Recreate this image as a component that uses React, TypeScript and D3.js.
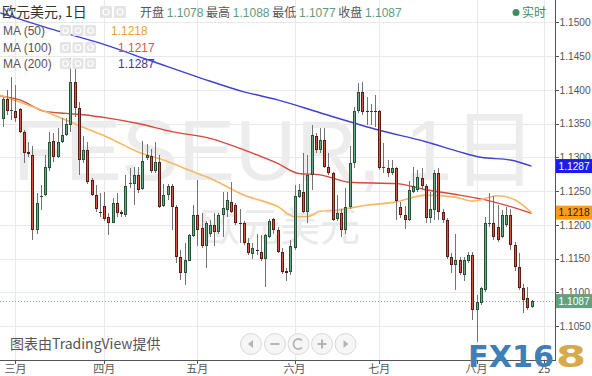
import React from "react";
import * as d3 from "d3";

// ---- Daily OHLC (EUR/USD) ----
const opens = [
  1.1356, 1.1387, 1.1368, 1.1368, 1.1371, 1.1338, 1.1308, 1.1303, 1.1192, 1.1241,
  1.1244, 1.1284, 1.1324, 1.1301, 1.1323, 1.1333, 1.1348, 1.1412, 1.1373, 1.1296,
  1.1311, 1.1266, 1.1244, 1.1219, 1.1228, 1.1212, 1.1203, 1.1233, 1.1219, 1.1215,
  1.1260, 1.1261, 1.1274, 1.1253, 1.1299, 1.1302, 1.1280, 1.1293, 1.1228, 1.1244,
  1.1257, 1.1227, 1.1153, 1.1128, 1.1147, 1.1184, 1.1215, 1.1195, 1.1168, 1.1186,
  1.1200, 1.1190, 1.1215, 1.1222, 1.1234, 1.1229, 1.1203, 1.1202, 1.1173, 1.1157,
  1.1163, 1.1160, 1.1150, 1.1182, 1.1208, 1.1192, 1.1160, 1.1132, 1.1130, 1.1165,
  1.1241, 1.1249, 1.1219, 1.1274, 1.1331, 1.1311, 1.1326, 1.1286, 1.1276, 1.1208,
  1.1218, 1.1192, 1.1227, 1.1291, 1.1368, 1.1397, 1.1368, 1.1367, 1.1368, 1.1368,
  1.1284, 1.1284, 1.1276, 1.1284, 1.1227, 1.1215, 1.1207, 1.1249, 1.1252, 1.1269,
  1.1257, 1.1210, 1.1222, 1.1276, 1.1219, 1.1207, 1.1153, 1.1140, 1.1148, 1.1126,
  1.1146, 1.1155, 1.1074, 1.1084, 1.1103, 1.1202, 1.1202, 1.1197, 1.1182, 1.1200,
  1.1215, 1.1170, 1.1138, 1.1106, 1.1091, 1.1078,
];
const highs = [
  1.1390, 1.1400, 1.1419, 1.1407, 1.1373, 1.1340, 1.1323, 1.1316, 1.1247, 1.1259,
  1.1303, 1.1338, 1.1336, 1.1343, 1.1358, 1.1358, 1.1447, 1.1440, 1.1382, 1.1331,
  1.1323, 1.1269, 1.1259, 1.1247, 1.1248, 1.1217, 1.1240, 1.1247, 1.1222, 1.1274,
  1.1284, 1.1286, 1.1286, 1.1324, 1.1320, 1.1312, 1.1323, 1.1303, 1.1261, 1.1261,
  1.1261, 1.1230, 1.1163, 1.1173, 1.1187, 1.1229, 1.1266, 1.1217, 1.1205, 1.1207,
  1.1217, 1.1217, 1.1249, 1.1249, 1.1264, 1.1232, 1.1224, 1.1205, 1.1180, 1.1173,
  1.1187, 1.1185, 1.1187, 1.1208, 1.1210, 1.1197, 1.1165, 1.1136, 1.1177, 1.1259,
  1.1261, 1.1306, 1.1303, 1.1348, 1.1336, 1.1343, 1.1343, 1.1306, 1.1278, 1.1244,
  1.1224, 1.1254, 1.1316, 1.1375, 1.1410, 1.1412, 1.1390, 1.1379, 1.1392, 1.1370,
  1.1321, 1.1296, 1.1296, 1.1286, 1.1234, 1.1228, 1.1265, 1.1286, 1.1281, 1.1284,
  1.1261, 1.1249, 1.1281, 1.1284, 1.1224, 1.1210, 1.1158, 1.1187, 1.1153, 1.1153,
  1.1160, 1.1160, 1.1096, 1.1108, 1.1212, 1.1247, 1.1242, 1.1229, 1.1222, 1.1227,
  1.1224, 1.1175, 1.1158, 1.1113, 1.1108, 1.1088,
];
const lows = [
  1.1345, 1.1363, 1.1355, 1.1353, 1.1336, 1.1291, 1.1301, 1.1177, 1.1187, 1.1222,
  1.1242, 1.1279, 1.1293, 1.1299, 1.1321, 1.1331, 1.1338, 1.1360, 1.1274, 1.1291,
  1.1261, 1.1243, 1.1219, 1.1212, 1.1206, 1.1185, 1.1202, 1.1212, 1.1212, 1.1212,
  1.1254, 1.1229, 1.1247, 1.1252, 1.1296, 1.1277, 1.1276, 1.1225, 1.1227, 1.1237,
  1.1192, 1.1143, 1.1118, 1.1111, 1.1146, 1.1182, 1.1168, 1.1165, 1.1136, 1.1182,
  1.1168, 1.1187, 1.1182, 1.1212, 1.1217, 1.1200, 1.1173, 1.1170, 1.1155, 1.1150,
  1.1155, 1.1146, 1.1108, 1.1180, 1.1187, 1.1158, 1.1127, 1.1117, 1.1126, 1.1163,
  1.1239, 1.1217, 1.1202, 1.1252, 1.1306, 1.1306, 1.1284, 1.1274, 1.1205, 1.1205,
  1.1182, 1.1187, 1.1224, 1.1284, 1.1365, 1.1363, 1.1348, 1.1348, 1.1345, 1.1281,
  1.1276, 1.1271, 1.1274, 1.1207, 1.1210, 1.1194, 1.1205, 1.1247, 1.1249, 1.1252,
  1.1202, 1.1202, 1.1207, 1.1207, 1.1202, 1.1150, 1.1128, 1.1103, 1.1126, 1.1116,
  1.1143, 1.1059, 1.1027, 1.1081, 1.1101, 1.1197, 1.1177, 1.1175, 1.1180, 1.1197,
  1.1163, 1.1131, 1.1103, 1.1069, 1.1074, 1.1077,
];
const closes = [
  1.1387, 1.1368, 1.1370, 1.1358, 1.1337, 1.1306, 1.1305, 1.1192, 1.1232, 1.1243,
  1.1286, 1.1323, 1.1300, 1.1323, 1.1333, 1.1350, 1.1412, 1.1373, 1.1296, 1.1311,
  1.1264, 1.1244, 1.1223, 1.1217, 1.1208, 1.1203, 1.1233, 1.1218, 1.1216, 1.1257,
  1.1262, 1.1274, 1.1252, 1.1295, 1.1303, 1.1280, 1.1293, 1.1227, 1.1244, 1.1257,
  1.1226, 1.1153, 1.1129, 1.1148, 1.1185, 1.1215, 1.1192, 1.1168, 1.1202, 1.1200,
  1.1190, 1.1215, 1.1225, 1.1237, 1.1219, 1.1202, 1.1202, 1.1173, 1.1158, 1.1165,
  1.1161, 1.1149, 1.1185, 1.1205, 1.1192, 1.1160, 1.1130, 1.1129, 1.1168, 1.1242,
  1.1252, 1.1219, 1.1274, 1.1333, 1.1311, 1.1326, 1.1286, 1.1276, 1.1207, 1.1218,
  1.1192, 1.1227, 1.1291, 1.1368, 1.1397, 1.1367, 1.1367, 1.1368, 1.1367, 1.1284,
  1.1286, 1.1276, 1.1284, 1.1235, 1.1215, 1.1207, 1.1252, 1.1257, 1.1271, 1.1257,
  1.1210, 1.1224, 1.1276, 1.1219, 1.1207, 1.1153, 1.1140, 1.1148, 1.1128, 1.1148,
  1.1155, 1.1074, 1.1086, 1.1106, 1.1202, 1.1203, 1.1182, 1.1177, 1.1215, 1.1215,
  1.1170, 1.1138, 1.1106, 1.1089, 1.1076, 1.1087,
];

// ---- Moving averages, sampled from the chart (bar index, value) ----
const ma50Idx = [-0.6, 4, 10, 15, 18, 25, 32, 38, 44, 49, 57, 65, 69, 72, 75, 79, 86, 93, 100, 107, 111, 117, 121, 125];
const ma50Val = [1.1392, 1.1382, 1.1368, 1.1355, 1.1347, 1.1329, 1.1308, 1.1296, 1.1281, 1.1269, 1.1244, 1.1227, 1.1212, 1.1212, 1.1220, 1.1222, 1.1229, 1.1234, 1.1244, 1.1241, 1.1235, 1.1243, 1.1237, 1.1218];
const ma100Idx = [-0.6, 4, 10, 15, 19, 25, 32, 40, 49, 57, 65, 70, 75, 82, 93, 100, 108, 116, 125];
const ma100Val = [1.1391, 1.1385, 1.1368, 1.1365, 1.1363, 1.1358, 1.1350, 1.1338, 1.1328, 1.1311, 1.1291, 1.1276, 1.1274, 1.1263, 1.1261, 1.1252, 1.1244, 1.1234, 1.1217];
const ma200Idx = [-0.6, 12, 23, 35, 47, 57, 65, 75, 89, 100, 108, 113, 120, 125];
const ma200Val = [1.1514, 1.1489, 1.1469, 1.1443, 1.1417, 1.1397, 1.1385, 1.1366, 1.1340, 1.1323, 1.1308, 1.1300, 1.1296, 1.1287];

// ---- Axis ticks ----
const priceTicks = [1.105, 1.11, 1.115, 1.12, 1.125, 1.13, 1.135, 1.14, 1.145, 1.15];
const monthLabels = ["三月", "四月", "五月", "六月", "七月", "八月", "25"];
const monthIdx = [3, 24, 46, 69, 89, 112, 128];

// ---- Legend texts ----
const titleText = "欧元美元, 1日";
const ohlcLabels = ["开盘", "最高", "最低", "收盘"];
const ohlcValues = ["1.1078", "1.1088", "1.1077", "1.1087"];
const maNames = ["MA (50)", "MA (100)", "MA (200)"];
const maLast = ["1.1218", "1.1217", "1.1287"];

const FONT = "'Liberation Sans', Arial, 'Noto Sans CJK SC', sans-serif";
const CJK = "'Noto Sans CJK SC', 'Liberation Sans', sans-serif";

export default function App() {
  const W = 592, H = 376, PR = 555, PB = 360;
  const x = d3.scaleLinear().domain([-0.64, 130.55]).range([0, PR]);
  const y = d3.scaleLinear().domain([1.1, 1.1533]).range([359.8, 0]);

  const mkLine = (idx: number[], vals: number[]) =>
    d3.line<number>().x((_, k) => x(idx[k])).y((v) => y(v)).curve(d3.curveMonotoneX)(vals) as string;

  const upBody = "#6ba583", upBorder = "#225437", dnBody = "#d75442", dnBorder = "#5b1a13", wick = "#737375";
  const c50 = "#f5b865", c100 = "#d9463c", c200 = "#4040d0";
  const lastClose = closes[closes.length - 1];

  const iconBox = (bx: number, by: number, s: number, key: string) => (
    <g key={key}>
      <rect x={bx} y={by} width={s} height={s} rx={1.5} fill="#e4e4e4" />
      <circle cx={bx + s / 2} cy={by + s / 2} r={s / 4} fill="none" stroke="#fff" strokeWidth={1.2} />
    </g>
  );

  const navX = [251, 275, 298.5, 322, 345.5];
  const navY = 344;

  return (
    <svg width={W} height={H} style={{ position: "absolute", left: 0, top: 0, background: "#fff" }} fontFamily={FONT}>
      <rect x={0} y={0} width={W} height={H} fill="#fff" />
      <defs>
        <clipPath id="pane">
          <rect x={0} y={0} width={PR} height={PB} />
        </clipPath>
      </defs>

      {/* grid */}
      {priceTicks.map((p) => (
        <line key={"hg" + p} x1={0} x2={PR} y1={Math.round(y(p)) + 0.5} y2={Math.round(y(p)) + 0.5} stroke="#e9e9e9" />
      ))}
      {monthIdx.map((m) => (
        <line key={"vg" + m} x1={Math.round(x(m)) + 0.5} x2={Math.round(x(m)) + 0.5} y1={0} y2={PB} stroke="#e9e9e9" />
      ))}

      {/* watermarks */}
      <text x={13} y={180} fontSize={85} fill="#ececec" textLength={524} lengthAdjust="spacingAndGlyphs">
        FESEUR, 1日
      </text>
      <text x={200} y={241} fontSize={40} fill="#eaeaea" fontFamily={CJK}>
        欧元美元
      </text>

      <g clipPath="url(#pane)">
        {/* close price line */}
        <line x1={0} x2={PR} y1={Math.round(y(lastClose)) + 0.5} y2={Math.round(y(lastClose)) + 0.5} stroke="#7fa894" strokeDasharray="1 2" />

        {/* moving averages */}
        <path d={mkLine(ma200Idx, ma200Val)} fill="none" stroke={c200} strokeWidth={1.4} />
        <path d={mkLine(ma100Idx, ma100Val)} fill="none" stroke={c100} strokeWidth={1.4} />
        <path d={mkLine(ma50Idx, ma50Val)} fill="none" stroke={c50} strokeWidth={1.6} />

        {/* candles */}
        {closes.map((c, i) => {
          const o = opens[i];
          const up = c >= o;
          const cx = Math.round(x(i));
          const top = Math.round(y(Math.max(o, c)));
          const bot = Math.round(y(Math.min(o, c)));
          const h = Math.max(1, bot - top);
          return (
            <g key={"c" + i}>
              <line x1={cx + 0.5} x2={cx + 0.5} y1={Math.round(y(highs[i]))} y2={Math.round(y(lows[i]))} stroke={wick} />
              <rect x={cx - 1} y={top} width={3} height={h} fill={up ? upBorder : dnBorder} />
              {h > 2 && <rect x={cx} y={top + 1} width={1} height={h - 2} fill={up ? upBody : dnBody} />}
            </g>
          );
        })}
      </g>

      {/* axes */}
      <line x1={PR + 0.5} x2={PR + 0.5} y1={0} y2={PB + 1} stroke="#555" />
      <line x1={0} x2={PR + 1} y1={PB + 0.5} y2={PB + 0.5} stroke="#555" />
      {priceTicks.map((p) => (
        <g key={"pt" + p}>
          <line x1={PR} x2={PR + 4} y1={Math.round(y(p)) + 0.5} y2={Math.round(y(p)) + 0.5} stroke="#555" />
          <text x={PR + 4.5} y={y(p) + 3.8} fontSize={10.2} fill="#555">
            {p.toFixed(4)}
          </text>
        </g>
      ))}
      {monthIdx.map((m, k) => (
        <g key={"mt" + m}>
          <line x1={Math.round(x(m)) + 0.5} x2={Math.round(x(m)) + 0.5} y1={PB} y2={PB + 4} stroke="#555" />
          <text x={x(m)} y={373} fontSize={11} fill="#555" textAnchor="middle" fontFamily={CJK}>
            {monthLabels[k]}
          </text>
        </g>
      ))}

      {/* price badges */}
      {[
        { v: ma200Val[ma200Val.length - 1], bg: "#1c1cf0", fg: "#fff" },
        { v: ma50Val[ma50Val.length - 1], bg: "#ff9a1a", fg: "#2a1a00" },
        { v: lastClose, bg: "#62a07f", fg: "#fff" },
      ].map((b, k) => (
        <g key={"bd" + k}>
          <rect x={PR + 1} y={y(b.v) - 7} width={W - PR - 1} height={14} fill={b.bg} />
          <text x={PR + 3.5} y={y(b.v) + 3.8} fontSize={10.2} fill={b.fg}>
            {b.v.toFixed(4)}
          </text>
        </g>
      ))}

      {/* legend */}
      <text x={2} y={17} fontSize={14} fill="#333" fontFamily={CJK}>
        {titleText}
      </text>
      {iconBox(100, 6, 12, "ti1")}
      {iconBox(114, 6, 12, "ti2")}
      <text x={140} y={17} fontSize={12} fontFamily={CJK}>
        {ohlcLabels.map((l, k) => (
          <React.Fragment key={"ol" + k}>
            <tspan fill="#555">{(k > 0 ? " " : "") + l + " "}</tspan>
            <tspan fill="#5f9a80" fontFamily={FONT}>{ohlcValues[k]}</tspan>
          </React.Fragment>
        ))}
      </text>
      <circle cx={516} cy={12.5} r={3.5} fill="#3d8f5f" />
      <text x={522} y={17} fontSize={12} fill="#3d8f5f" fontFamily={CJK}>
        实时
      </text>

      {maNames.map((n, k) => {
        const base = [35, 52, 68][k];
        const col = ["#e8a330", "#d9534f", "#3a3a9c"][k];
        const vx = [111, 118, 118][k];
        return (
          <g key={"ma" + k}>
            <text x={3} y={base} fontSize={12} fill="#555">{n}</text>
            {iconBox(60, base - 10, 11, "a" + k)}
            {iconBox(72.5, base - 10, 11, "b" + k)}
            {iconBox(85, base - 10, 11, "c" + k)}
            <text x={vx} y={base} fontSize={12} fill={col}>{maLast[k]}</text>
          </g>
        );
      })}

      {/* bottom credit */}
      <text x={10} y={349} fontSize={14} fill="#555" fontFamily={CJK}>
        图表由TradingView提供
      </text>

      {/* nav buttons */}
      {navX.map((cx, k) => (
        <g key={"nb" + k}>
          <circle cx={cx} cy={navY} r={10.5} fill="#f6f6f6" stroke="#d8d8d8" />
        </g>
      ))}
      <path d={`M${navX[0] + 2},${navY - 4} L${navX[0] - 3},${navY} L${navX[0] + 2},${navY + 4} Z`} fill="#b5b5b5" />
      <line x1={navX[1] - 4.5} x2={navX[1] + 4.5} y1={navY} y2={navY} stroke="#b5b5b5" strokeWidth={2} />
      <path d={`M${navX[2] + 3.5},${navY - 3.5} A5,5 0 1,0 ${navX[2] + 3.5},${navY + 3.5}`} fill="none" stroke="#b5b5b5" strokeWidth={1.8} />
      <line x1={navX[3] - 4.5} x2={navX[3] + 4.5} y1={navY} y2={navY} stroke="#b5b5b5" strokeWidth={2} />
      <line x1={navX[3]} x2={navX[3]} y1={navY - 4.5} y2={navY + 4.5} stroke="#b5b5b5" strokeWidth={2} />
      <path d={`M${navX[4] - 2},${navY - 4} L${navX[4] + 3},${navY} L${navX[4] - 2},${navY + 4} Z`} fill="#b5b5b5" />

      {/* FX168 logo */}
      <text x={468} y={367} fontSize={30} fontWeight="bold" fill="#3f7fb8" fontFamily="'DejaVu Sans', sans-serif" textLength={86} lengthAdjust="spacingAndGlyphs">
        FX16
      </text>
      <text x={556} y={367} fontSize={30} fontWeight="bold" fill="#d6aa4c" fontFamily="'DejaVu Sans', sans-serif" textLength={30} lengthAdjust="spacingAndGlyphs">
        8
      </text>
    </svg>
  );
}
